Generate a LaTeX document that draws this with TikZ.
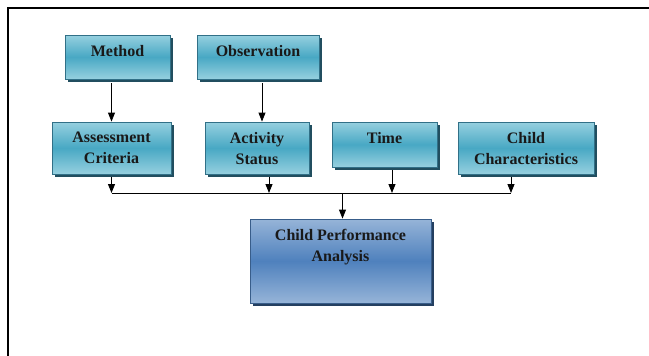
\documentclass[tikz,border=0pt]{standalone}
\usepackage{fontspec}
\setmainfont{Liberation Serif}
\usetikzlibrary{positioning,shadows,arrows.meta}

\definecolor{aqualight}{RGB}{150,208,223}
\definecolor{aquamid}{RGB}{72,168,196}
\definecolor{aquaedge}{RGB}{49,112,135}
\definecolor{aquashadow}{RGB}{33,78,95}
\definecolor{bluelight}{RGB}{150,180,216}
\definecolor{bluemid}{RGB}{79,129,189}
\definecolor{blueedge}{RGB}{56,93,138}
\definecolor{blueshadow}{RGB}{36,63,96}

\tikzset{
  smallbox/.style={draw=aquaedge,line width=0.8pt,inner sep=0pt,
    top color=aqualight,bottom color=aqualight,middle color=aquamid,
    drop shadow={shadow xshift=2.5pt,shadow yshift=-2.5pt,fill=aquashadow,opacity=1}},
  bigbox/.style={draw=blueedge,line width=0.8pt,inner sep=0pt,
    top color=bluelight,bottom color=bluelight,middle color=bluemid,
    drop shadow={shadow xshift=2.5pt,shadow yshift=-2.5pt,fill=blueshadow,opacity=1}},
  boxtext/.style={inner sep=0pt,align=center,font=\fontsize{16}{21}\selectfont\bfseries,text=black!90},
  arr/.style={line width=0.8pt,-{Triangle[width=7pt,length=9pt]}}
}

\begin{document}
\begin{tikzpicture}[x=1pt,y=-1pt]
\useasboundingbox (0,0) rectangle (649,356);
% frame
\draw[line width=2pt] (649,7.5) -- (7.5,7.5) -- (7.5,356);

% boxes
\node[smallbox,minimum width=105pt,minimum height=44pt] (method) at (117.5,57) {};
\node[smallbox,minimum width=122pt,minimum height=44pt] (observation) at (258,57) {};
\node[smallbox,minimum width=119pt,minimum height=52pt] (assess) at (111.5,148) {};
\node[smallbox,minimum width=104pt,minimum height=52pt] (activity) at (257,148) {};
\node[smallbox,minimum width=105pt,minimum height=45pt] (time) at (384.5,144.5) {};
\node[smallbox,minimum width=136pt,minimum height=52pt] (childchar) at (526,148) {};
\node[bigbox,minimum width=181pt,minimum height=84pt] (analysis) at (340.5,261) {};

% texts
\node[boxtext,below=10.5pt of method.north] (methodtxt) {Method};
\node[boxtext,below=10.5pt of observation.north] (observationtxt) {Observation};
\node[boxtext,below=10.5pt of assess.north] (assesstxt) {Assessment\\Criteria};
\node[boxtext,below=10.5pt of activity.north] (activitytxt) {Activity\\Status};
\node[boxtext,below=10.5pt of time.north] (timetxt) {Time};
\node[boxtext,below=10.5pt of childchar.north] (childchartxt) {Child\\Characteristics};
\node[boxtext,below=10.5pt of analysis.north] (analysistxt) {Child Performance\\Analysis};

% connectors
\draw[arr] ([yshift=-4pt]method.south -| assess.north) -- (assess.north);
\draw[arr] ([xshift=5pt,yshift=-4pt]observation.south -| activity.north) -- ([xshift=5pt]activity.north);

\coordinate (busL) at (111.5,193);
\coordinate (busR) at (511,193);
\draw[line width=0.8pt] (busL) -- (busR);
\foreach \n/\dx in {assess/0,activity/12,time/7.5,childchar/-15}
  {\draw[arr] ([xshift=\dx pt,yshift=-3pt]\n.south) -- ([xshift=\dx pt]\n.south |- busL);}
\draw[arr] ([xshift=2pt]analysis.north |- busL) -- ([xshift=2pt]analysis.north);
\end{tikzpicture}
\end{document}
